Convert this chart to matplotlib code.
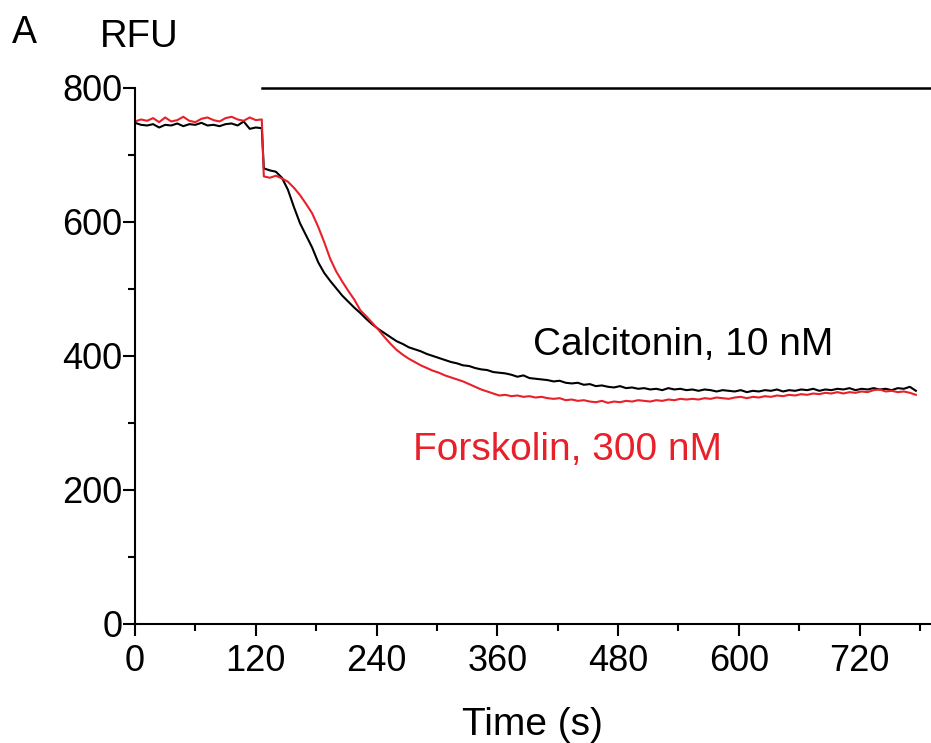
import numpy as np
import matplotlib
matplotlib.use("Agg")
import matplotlib.pyplot as plt
from matplotlib.ticker import MultipleLocator

plt.rcParams['font.family'] = ['Liberation Sans', 'DejaVu Sans']

# time axis (s): baseline samples, then samples after agonist addition
t_base = np.arange(0, 127, 6)
t_after = np.arange(128, 781, 6)
time = np.concatenate([t_base, t_after])

calc_base = [748, 745, 744, 746, 741, 745, 744, 747, 743, 746, 745,
             748, 744, 745, 743, 746, 747, 744, 750, 739, 741, 740]
calc_after = [680, 677, 675, 666, 648, 622, 598, 580, 562, 540,
              524, 512, 501, 490, 481, 472, 464, 455, 447, 440,
              434, 428, 422, 418, 413, 410, 407, 403, 400, 397,
              394, 391, 389, 386, 385, 382, 380, 379, 376, 375,
              374, 372, 369, 371, 367, 366, 365, 364, 362, 363,
              360, 359, 360, 357, 358, 355, 356, 354, 353, 355,
              352, 353, 351, 352, 350, 351, 349, 352, 350, 351,
              349, 350, 348, 350, 349, 347, 349, 348, 347, 349,
              346, 348, 347, 349, 348, 350, 347, 349, 348, 350,
              349, 351, 348, 350, 349, 351, 350, 352, 349, 351,
              350, 352, 350, 351, 349, 352, 351, 354, 348]

forsk_base = [750, 753, 751, 755, 749, 756, 750, 752, 757, 751, 749,
              754, 756, 752, 750, 755, 757, 753, 751, 756, 752, 753]
forsk_after = [668, 666, 669, 665, 660, 651, 640, 627, 613, 593,
               570, 545, 526, 511, 497, 484, 468, 459, 449, 439,
               428, 418, 409, 402, 396, 391, 386, 382, 378, 375,
               371, 368, 365, 362, 358, 354, 350, 347, 344, 341,
               342, 340, 341, 339, 340, 338, 339, 337, 336, 337,
               334, 335, 333, 334, 332, 331, 333, 330, 332, 331,
               333, 332, 334, 333, 332, 334, 333, 335, 334, 336,
               335, 336, 335, 337, 336, 338, 337, 336, 338, 339,
               337, 339, 338, 340, 339, 341, 340, 342, 341, 343,
               342, 344, 343, 345, 344, 346, 344, 346, 345, 347,
               346, 349, 350, 347, 348, 346, 347, 345, 342]

calcitonin = np.array(calc_base + calc_after)
forskolin = np.array(forsk_base + forsk_after)

bar_start = 126
bar_end = 790
bar_level = 800

red = '#e8202a'

fig = plt.figure(figsize=(9.31, 7.43), dpi=100)
ax = fig.add_axes([0.145, 0.1602, 0.8539, 0.7214])

ax.plot(time, calcitonin, color='black', lw=1.5)
ax.plot(time, forskolin, color=red, lw=1.5)
ax.plot([bar_start, bar_end], [bar_level, bar_level], color='black', lw=1.8, clip_on=False)

ax.set_xlim(0, 790)
ax.set_ylim(0, 800)
ax.spines['top'].set_visible(False)
ax.spines['right'].set_visible(False)
for s in ['left', 'bottom']:
    ax.spines[s].set_linewidth(1.5)

ax.xaxis.set_major_locator(MultipleLocator(120))
ax.xaxis.set_minor_locator(MultipleLocator(60))
ax.yaxis.set_major_locator(MultipleLocator(200))
ax.yaxis.set_minor_locator(MultipleLocator(100))
ax.tick_params(which='major', length=8.6, width=1.5)
ax.tick_params(which='minor', length=5, width=1.5)
ax.tick_params(axis='y', labelsize=26, pad=0.5)
ax.tick_params(axis='x', labelsize=26, pad=6)

ax.set_xlabel('Time (s)', fontsize=28, labelpad=20)

fig.text(12 / 931, 1 - 43 / 743, 'A', fontsize=27, va='baseline', ha='left')
fig.text(100 / 931, 1 - 47 / 743, 'RFU', fontsize=27.5, va='baseline', ha='left')

ax.text(533 / 931, 1 - 355 / 743, 'Calcitonin, 10 nM', transform=fig.transFigure,
        fontsize=28, va='baseline', ha='left', color='black')
ax.text(413 / 931, 1 - 460 / 743, 'Forskolin, 300 nM', transform=fig.transFigure,
        fontsize=28, va='baseline', ha='left', color=red)

fig.savefig('out.png', dpi=100)
